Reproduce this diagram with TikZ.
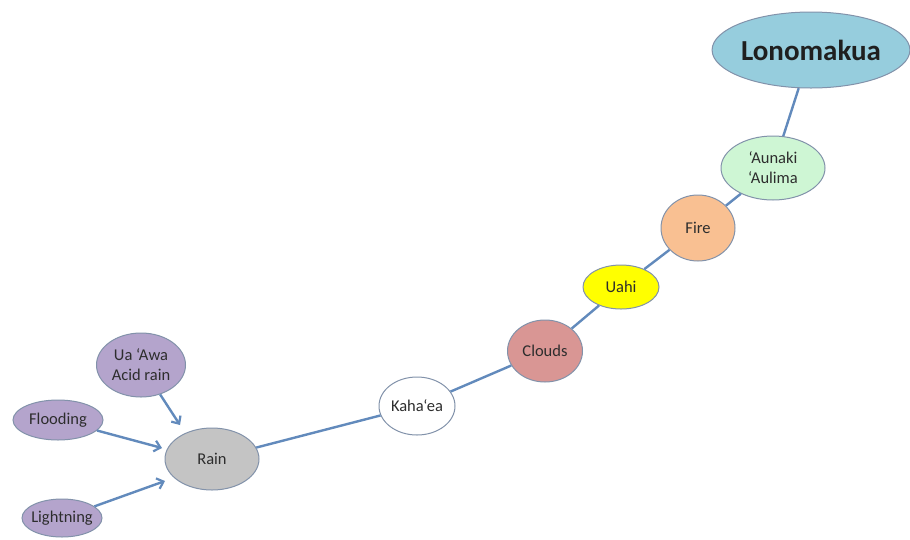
\documentclass[tikz,border=0pt]{standalone}
\usepackage{fontspec}
\setmainfont{Carlito}
\usetikzlibrary{shapes.geometric,arrows.meta}
\definecolor{linkblue}{RGB}{98,138,188}
\definecolor{rimgray}{RGB}{130,146,170}
\definecolor{skyfill}{RGB}{150,205,221}
\definecolor{mintfill}{RGB}{206,246,212}
\definecolor{peachfill}{RGB}{249,192,146}
\definecolor{sunfill}{RGB}{255,255,0}
\definecolor{rosefill}{RGB}{217,150,148}
\definecolor{stonefill}{RGB}{196,196,196}
\definecolor{lilacfill}{RGB}{180,164,204}
\definecolor{inkgray}{RGB}{45,45,45}
\tikzset{
  bubble/.style={ellipse, draw=rimgray, line width=1pt, inner sep=0pt,
    text=inkgray, font=\fontsize{16.5}{20}\selectfont, align=center},
  link/.style={draw=linkblue, line width=2.4pt},
  feed/.style={link, -{Straight Barb[length=6pt,width=11pt,line width=2.2pt]}},
}
\begin{document}
\begin{tikzpicture}[x=1pt,y=-1pt]
\useasboundingbox (0,0) rectangle (910,539);
\fill[white] (0,0) rectangle (910,539);

% chain of ellipses
\node[bubble, fill=skyfill, minimum width=196pt, minimum height=76pt,
      font=\fontsize{29}{33}\bfseries\selectfont, text=black!88]
      (lono) at (811,50) {Lonomakua};
\node[bubble, fill=mintfill, minimum width=104pt, minimum height=64pt]
      (aunaki) at (773,168) {‘Aunaki\\‘Aulima};
\node[bubble, fill=peachfill, minimum width=74pt, minimum height=66pt]
      (fire) at (698,228) {Fire};
\node[bubble, fill=sunfill, minimum width=76pt, minimum height=44pt]
      (uahi) at (621,287) {Uahi};
\node[bubble, fill=rosefill, minimum width=75pt, minimum height=62pt]
      (clouds) at (545,351) {Clouds};
\node[bubble, fill=white, minimum width=76pt, minimum height=58pt]
      (kahaea) at (417,406) {Kaha‘ea};
\node[bubble, fill=stonefill, minimum width=94pt, minimum height=62pt]
      (rain) at (212,459) {Rain};

% feeding causes
\node[bubble, fill=lilacfill, minimum width=89pt, minimum height=64pt]
      (uaawa) at (141,365) {Ua ‘Awa\\Acid rain};
\node[bubble, fill=lilacfill, minimum width=90pt, minimum height=40pt]
      (flood) at (58,420) {Flooding};
\node[bubble, fill=lilacfill, minimum width=80pt, minimum height=38pt,
      inner xsep=-6pt]
      (light) at (62,518) {Lightning};

% arrow tips stop short of the Rain ellipse
\coordinate (uaTip) at (180,425);
\coordinate (floodTip) at (162,448);
\coordinate (lightTip) at (165,481);

% chain links
\draw[link] (lono) -- (aunaki);
\draw[link] (aunaki) -- (fire);
\draw[link] (fire) -- (uahi);
\draw[link] (uahi) -- (clouds);
\draw[link] (clouds) -- (kahaea);
\draw[link] (kahaea) -- (rain);

% arrows into Rain
\draw[feed] (uaawa) -- (uaTip);
\draw[feed] (flood) -- (floodTip);
\draw[feed] (light) -- (lightTip);
\end{tikzpicture}
\end{document}
